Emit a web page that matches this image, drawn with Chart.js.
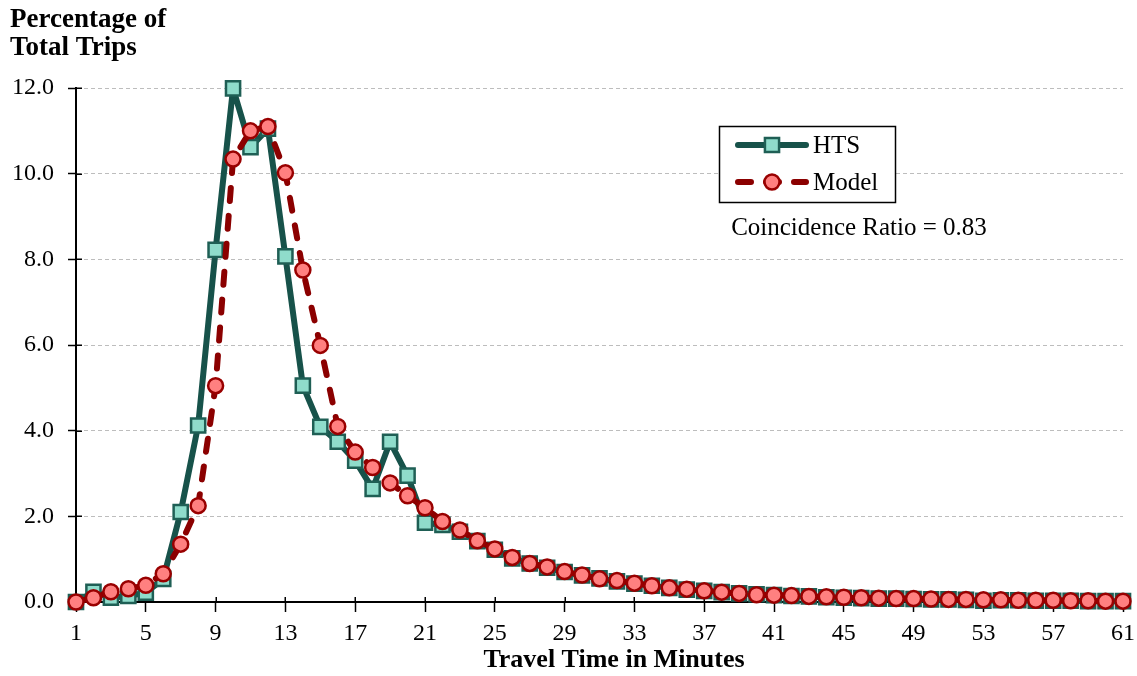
<!DOCTYPE html>
<html>
<head>
<meta charset="utf-8">
<script src="https://cdn.jsdelivr.net/npm/chart.js@4.4.1/dist/chart.umd.min.js"></script>
<style>
  html, body { margin: 0; padding: 0; background: #ffffff; }
  #wrap { width: 1137px; height: 676px; position: relative; }
</style>
</head>
<body>
<div id="wrap"><canvas id="c" width="1137" height="676"></canvas></div>
<script>
// ---- Data ----
const minutes = [];
for (let m = 1; m <= 61; m++) minutes.push(m);

const htsValues = [
  0.00, 0.24, 0.10, 0.14, 0.22, 0.54, 2.10, 4.12, 8.22, 11.99,
  10.62, 11.05, 8.07, 5.05, 4.09, 3.74, 3.30, 2.64, 3.74, 2.95,
  1.85, 1.80, 1.64, 1.42, 1.22, 1.02, 0.90, 0.80, 0.70, 0.62,
  0.55, 0.48, 0.43, 0.38, 0.33, 0.29, 0.26, 0.23, 0.20, 0.18,
  0.16, 0.14, 0.13, 0.11, 0.10, 0.09, 0.08, 0.08, 0.07, 0.06,
  0.06, 0.05, 0.03, 0.04, 0.04, 0.03, 0.03, 0.03, 0.02, 0.02,
  0.02
];

const modelValues = [
  0.00, 0.10, 0.24, 0.31, 0.39, 0.66, 1.35, 2.25, 5.05, 10.34,
  11.00, 11.10, 10.02, 7.75, 5.99, 4.10, 3.50, 3.14, 2.78, 2.48,
  2.20, 1.88, 1.68, 1.43, 1.24, 1.04, 0.90, 0.82, 0.71, 0.63,
  0.54, 0.50, 0.44, 0.38, 0.33, 0.30, 0.26, 0.23, 0.20, 0.17,
  0.16, 0.15, 0.13, 0.12, 0.11, 0.10, 0.09, 0.08, 0.08, 0.07,
  0.06, 0.06, 0.05, 0.05, 0.04, 0.04, 0.04, 0.03, 0.03, 0.02,
  0.02
];

const seriesNames = ['HTS', 'Model'];
const xTickValues = [1, 5, 9, 13, 17, 21, 25, 29, 33, 37, 41, 45, 49, 53, 57, 61];
const yTickValues = [0, 2, 4, 6, 8, 10, 12];
const yTitleLines = ['Percentage of', 'Total Trips'];
const xTitle = 'Travel Time in Minutes';
const annotationText = 'Coincidence Ratio = 0.83';

// ---- Styles ----
const SERIF = '"Liberation Serif", "Times New Roman", serif';
const htsStyle = { line: '#17524a', fill: '#8fdccb', border: '#1f5f55' };
const modelStyle = { line: '#8b0000', fill: '#ff8080', border: '#990000' };
const modelDash = [13, 15];

const toPoints = vals => minutes.map((m, i) => ({ x: m, y: vals[i] }));

// Inner tick stubs (ticks cross the axis in the reference)
const innerTicksPlugin = {
  id: 'innerTicks',
  beforeDatasetsDraw(chart) {
    const ctx = chart.ctx;
    const xs = chart.scales.x, ys = chart.scales.y;
    const ca = chart.chartArea;
    ctx.save();
    ctx.strokeStyle = '#000';
    ctx.lineWidth = 1.5;
    ctx.beginPath();
    xs.ticks.forEach(t => {
      const px = Math.round(xs.getPixelForValue(t.value)) + 0.25;
      ctx.moveTo(px, ca.bottom);
      ctx.lineTo(px, ca.bottom - 5);
    });
    ys.ticks.forEach(t => {
      const py = Math.round(ys.getPixelForValue(t.value)) + 0.25;
      ctx.moveTo(ca.left, py);
      ctx.lineTo(ca.left + 6, py);
    });
    ctx.stroke();
    ctx.restore();
  }
};

// Custom plugin: y-axis heading, x-axis title, legend box, annotation
const decorPlugin = {
  id: 'decor',
  afterDraw(chart) {
    const ctx = chart.ctx;
    ctx.save();
    // heading
    ctx.fillStyle = '#000';
    ctx.font = 'bold 27px ' + SERIF;
    ctx.textAlign = 'left';
    ctx.textBaseline = 'alphabetic';
    ctx.fillText(yTitleLines[0], 10, 27);
    ctx.fillText(yTitleLines[1], 10, 55);

    // x-axis title
    ctx.font = 'bold 26px ' + SERIF;
    ctx.textAlign = 'center';
    ctx.fillText(xTitle, 614, 667);

    // legend box
    const bx = 719.5, by = 126.5, bw = 176, bh = 76;
    ctx.fillStyle = '#fff';
    ctx.fillRect(bx, by, bw, bh);
    ctx.strokeStyle = '#000';
    ctx.lineWidth = 1.5;
    ctx.strokeRect(bx, by, bw, bh);

    const ds = chart.data.datasets;
    const rows = [145, 182];
    ds.forEach((d, i) => {
      const y = rows[i];
      ctx.save();
      ctx.strokeStyle = d.borderColor;
      ctx.lineWidth = d.borderWidth;
      ctx.lineCap = 'round';
      ctx.setLineDash(d.borderDash || []);
      ctx.beginPath();
      ctx.moveTo(738, y);
      ctx.lineTo(806, y);
      ctx.stroke();
      ctx.restore();
      // marker
      ctx.save();
      ctx.fillStyle = d.pointBackgroundColor;
      ctx.strokeStyle = d.pointBorderColor;
      ctx.lineWidth = d.pointBorderWidth;
      ctx.beginPath();
      if (d.pointStyle === 'rect') {
        const s = d.pointRadius * Math.SQRT1_2;
        ctx.rect(772 - s, y - s, 2 * s, 2 * s);
      } else {
        ctx.arc(772, y, d.pointRadius, 0, Math.PI * 2);
      }
      ctx.fill();
      ctx.stroke();
      ctx.restore();
      // label
      ctx.fillStyle = '#000';
      ctx.font = '25px ' + SERIF;
      ctx.textAlign = 'left';
      ctx.textBaseline = 'middle';
      ctx.fillText(d.label, 813, y + 1);
    });

    // annotation
    ctx.fillStyle = '#000';
    ctx.font = '25px ' + SERIF;
    ctx.textAlign = 'center';
    ctx.textBaseline = 'middle';
    ctx.fillText(annotationText, 859, 228);
    ctx.restore();
  }
};

new Chart(document.getElementById('c'), {
  type: 'line',
  data: {
    datasets: [
      {
        label: seriesNames[0],
        data: toPoints(htsValues),
        borderColor: htsStyle.line,
        borderWidth: 6,
        borderJoinStyle: 'round',
        borderCapStyle: 'round',
        pointStyle: 'rect',
        pointRadius: 10,
        pointBackgroundColor: htsStyle.fill,
        pointBorderColor: htsStyle.border,
        pointBorderWidth: 2.5,
        tension: 0,
        clip: false,
        order: 1
      },
      {
        label: seriesNames[1],
        data: toPoints(modelValues),
        borderColor: modelStyle.line,
        borderWidth: 6,
        borderDash: modelDash,
        borderCapStyle: 'round',
        borderJoinStyle: 'round',
        pointStyle: 'circle',
        pointRadius: 7.5,
        pointBackgroundColor: modelStyle.fill,
        pointBorderColor: modelStyle.border,
        pointBorderWidth: 2.5,
        tension: 0,
        clip: false,
        order: 0
      }
    ]
  },
  options: {
    responsive: false,
    animation: false,
    devicePixelRatio: 1,
    layout: { padding: { left: 0, top: 88, right: 14, bottom: 0 } },
    plugins: {
      legend: { display: false },
      title: { display: false },
      tooltip: { enabled: false }
    },
    scales: {
      x: {
        type: 'linear',
        min: 1,
        max: 61,
        afterBuildTicks: s => { s.ticks = xTickValues.map(v => ({ value: v })); },
        afterFit: s => { s.height = 74; s.paddingRight = 0; s.paddingLeft = 0; },
        ticks: {
          autoSkip: false,
          maxRotation: 0,
          padding: 7,
          color: '#000',
          font: { family: SERIF, size: 24 },
          callback: v => String(v)
        },
        grid: {
          drawOnChartArea: false,
          drawTicks: true,
          tickLength: 10,
          tickColor: '#000',
          tickWidth: 1.5
        },
        border: { display: true, color: '#000', width: 2 },
        title: { display: false }
      },
      y: {
        type: 'linear',
        min: 0,
        max: 12,
        afterBuildTicks: s => { s.ticks = yTickValues.map(v => ({ value: v })); },
        afterFit: s => { s.width = 76; },
        ticks: {
          padding: 14,
          color: '#000',
          font: { family: SERIF, size: 24 },
          callback: v => Number(v).toFixed(1)
        },
        grid: {
          color: '#bdbdbd',
          lineWidth: 1,
          drawTicks: true,
          tickLength: 8,
          tickColor: '#000',
          tickWidth: 1.5,
          tickBorderDash: []
        },
        border: { display: true, color: '#000', width: 2, dash: [4, 3] }
      }
    }
  },
  plugins: [innerTicksPlugin, decorPlugin]
});
</script>
</body>
</html>
